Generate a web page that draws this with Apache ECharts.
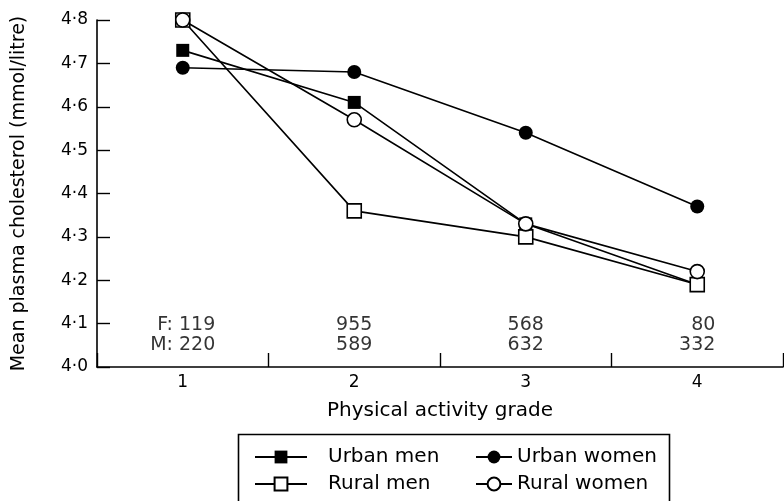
<!DOCTYPE html>
<html>
<head>
<meta charset="utf-8">
<script src="https://cdn.jsdelivr.net/npm/echarts@6/dist/echarts.min.js"></script>
<style>
  html, body { margin: 0; padding: 0; background: #fff; }
  #main { width: 784px; height: 501px; }
</style>
</head>
<body>
<div id="main"></div>
<script>
// activity grades on the x axis
var grades = ['1', '2', '3', '4'];
// mean plasma cholesterol (mmol/litre)
var urbanMen = [4.73, 4.61, 4.33, 4.19];
var urbanWomen = [4.69, 4.68, 4.54, 4.37];
var ruralMen = [4.80, 4.36, 4.30, 4.19];
var ruralWomen = [4.80, 4.57, 4.33, 4.22];
// numbers of subjects per grade
var femaleN = [119, 955, 568, 80];
var maleN = [220, 589, 632, 332];
var yTicks = [4.0, 4.1, 4.2, 4.3, 4.4, 4.5, 4.6, 4.7, 4.8];

var FONT = '"DejaVu Sans", Verdana, sans-serif';
var INK = '#000';

// measure label widths so the two lines are right aligned in a centred block
var ctx = document.createElement('canvas').getContext('2d');
ctx.font = '19px ' + FONT;
function countLabel(i) {
  var top = (i === 0 ? 'F: ' : '') + femaleN[i];
  var bottom = (i === 0 ? 'M: ' : '') + maleN[i];
  var w = Math.max(ctx.measureText(top).width, ctx.measureText(bottom).width);
  return { text: top + '\n' + bottom, half: w / 2 };
}

var countData = grades.map(function (g, i) {
  var c = countLabel(i);
  return {
    value: [i, yTicks[0]],
    label: { formatter: c.text, offset: [c.half, 0] }
  };
});

function lineSeries(name, data, symbol, filled) {
  return {
    name: name,
    type: 'line',
    data: data,
    symbol: symbol,
    symbolSize: filled && symbol === 'rect' ? 13 : 14,
    showSymbol: true,
    lineStyle: { color: INK, width: 1.6 },
    itemStyle: {
      color: filled ? INK : '#fff',
      borderColor: INK,
      borderWidth: filled ? 0 : 1.6
    },
    emphasis: { disabled: true },
    z: 3
  };
}

var legendText = { fontSize: 20, color: INK, fontFamily: FONT };

var chart = echarts.init(document.getElementById('main'), null, { renderer: 'canvas' });
chart.setOption({
  animation: false,
  backgroundColor: '#fff',
  textStyle: { fontFamily: FONT, color: INK },
  grid: { left: 97, right: 1, top: 20, bottom: 134, containLabel: false, outerBoundsMode: 'none' },
  xAxis: {
    type: 'category',
    data: grades,
    boundaryGap: true,
    name: 'Physical activity grade',
    nameLocation: 'middle',
    nameGap: 34,
    nameTextStyle: { fontSize: 20, color: INK, fontFamily: FONT },
    axisLine: { lineStyle: { color: INK, width: 1.6 } },
    axisTick: { show: true, inside: true, length: 14, alignWithLabel: false, lineStyle: { color: INK, width: 1.4 } },
    axisLabel: { fontSize: 17, color: INK, margin: 7, fontFamily: FONT },
    splitLine: { show: false }
  },
  yAxis: {
    type: 'value',
    min: yTicks[0],
    max: yTicks[yTicks.length - 1],
    interval: 0.1,
    name: 'Mean plasma cholesterol (mmol/litre)',
    nameLocation: 'middle',
    nameGap: 68,
    nameRotate: 90,
    nameTextStyle: { fontSize: 19, color: INK, fontFamily: FONT },
    axisLine: { show: true, lineStyle: { color: INK, width: 1.6 } },
    axisTick: { show: true, inside: true, length: 13, lineStyle: { color: INK, width: 1.4 } },
    axisLabel: {
      fontSize: 17, color: INK, margin: 9, fontFamily: FONT,
      formatter: function (v) { return v.toFixed(1).replace('.', '\u00b7'); }
    },
    splitLine: { show: false }
  },
  legend: [{
    orient: 'vertical',
    left: 254,
    top: 447,
    padding: 0,
    itemWidth: 52,
    itemHeight: 16,
    itemGap: 7,
    data: ['Urban men', 'Rural men'],
    textStyle: Object.assign({ padding: [0, 0, 0, 16] }, legendText),
    selectedMode: false
  }, {
    orient: 'vertical',
    left: 475,
    top: 447,
    padding: 0,
    itemWidth: 36,
    itemHeight: 16,
    itemGap: 7,
    data: ['Urban women', 'Rural women'],
    textStyle: legendText,
    selectedMode: false
  }],
  graphic: [{
    type: 'rect',
    left: 236,
    top: 432,
    shape: { width: 431, height: 80 },
    style: { fill: 'none', stroke: INK, lineWidth: 1.6 },
    silent: true
  }],
  series: [
    lineSeries('Urban men', urbanMen, 'rect', true),
    lineSeries('Urban women', urbanWomen, 'circle', true),
    lineSeries('Rural men', ruralMen, 'rect', false),
    lineSeries('Rural women', ruralWomen, 'circle', false),
    {
      name: 'counts',
      type: 'scatter',
      data: countData,
      symbolSize: 0,
      silent: true,
      label: {
        show: true,
        position: 'top',
        distance: 12,
        align: 'right',
        fontSize: 19,
        lineHeight: 20,
        color: INK,
        fontFamily: FONT
      },
      z: 2
    }
  ]
});
</script>
</body>
</html>
